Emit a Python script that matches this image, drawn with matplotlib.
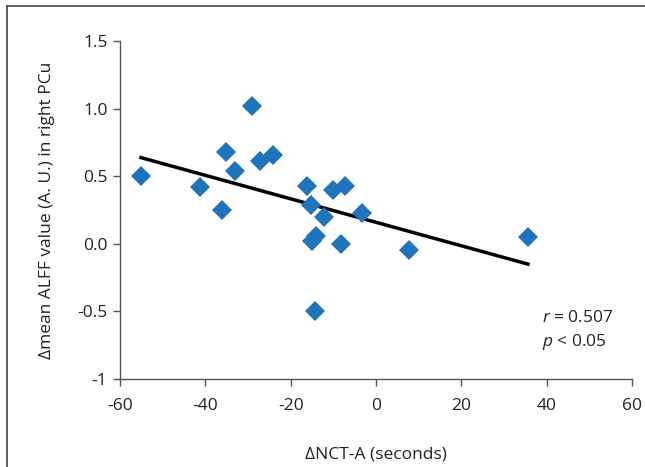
"""
Scatter plot of change in NCT-A time vs change in mean ALFF value in right PCu,
with a least-squares trend line.
"""
import numpy as np
import matplotlib
matplotlib.use('Agg')
import matplotlib.pyplot as plt
from matplotlib.lines import Line2D

plt.rcParams['font.family'] = ['Open Sans', 'DejaVu Sans']
plt.rcParams['axes.unicode_minus'] = False
plt.rcParams['mathtext.fontset'] = 'custom'
plt.rcParams['mathtext.it'] = 'Open Sans:italic'
plt.rcParams['mathtext.rm'] = 'Open Sans'

# data
delta_nct = [-55.1, -41.2, -36.1, -35.2, -33.0, -29.1, -27.2, -24.1, -16.2, -15.2,
             -15.0, -14.1, -14.3, -12.2, -10.1, -7.3, -8.2, -3.3, 7.7, 35.6]
delta_alff = [0.50, 0.42, 0.25, 0.68, 0.54, 1.02, 0.61, 0.66, 0.43, 0.29,
              0.02, 0.06, -0.50, 0.20, 0.40, 0.43, 0.00, 0.23, -0.05, 0.05]
x_ticks = [-60, -40, -20, 0, 20, 40, 60]
y_ticks = [-1, -0.5, 0, 0.5, 1.0, 1.5]
y_tick_labels = ['-1', '-0.5', '0.0', '0.5', '1.0', '1.5']

fs = 12.5
txt = '#222222'

fig = plt.figure(figsize=(6.45, 4.67), dpi=100)
ax = fig.add_axes([0.186, 0.189, 0.794, 0.723])

ax.plot(delta_nct, delta_alff, 'D', color='#1f74bb', markersize=10, markeredgewidth=0, zorder=3)

# trend line from a linear fit
slope, intercept = np.polyfit(delta_nct, delta_alff, 1)
xs = np.array([min(delta_nct), max(delta_nct)])
ax.plot(xs, slope * xs + intercept, color='black', linewidth=2.5, zorder=2)

ax.set_xlim(-60, 60)
ax.set_ylim(-1, 1.5)
ax.set_xticks(x_ticks)
ax.set_yticks(y_ticks)
ax.set_yticklabels(y_tick_labels)
ax.tick_params(direction='out', length=5, width=1, color='#555555', labelsize=fs, labelcolor=txt)
ax.tick_params(axis='x', pad=9)
ax.tick_params(axis='y', pad=4)
for side in ['top', 'right']:
    ax.spines[side].set_visible(False)
for side in ['left', 'bottom']:
    ax.spines[side].set_color('#555555')
    ax.spines[side].set_linewidth(1)

ax.set_xlabel('ΔNCT-A (seconds)', fontsize=fs, color=txt, labelpad=23)
ax.set_ylabel('Δmean ALFF value (A. U.) in right PCu', fontsize=fs, color=txt, labelpad=16)

ax.text(39.0, -0.55, r'$r$ = 0.507', fontsize=fs, color=txt, va='center')
ax.text(39.0, -0.73, r'$p$ < 0.05', fontsize=fs, color=txt, va='center')

# frame around the figure (top and left edges)
fig.add_artist(Line2D([0.011, 1.0], [0.987, 0.987], color='#444444', linewidth=1.2))
fig.add_artist(Line2D([0.011, 0.011], [0.0, 0.987], color='#444444', linewidth=1.2))

fig.savefig('out.png', dpi=100)
